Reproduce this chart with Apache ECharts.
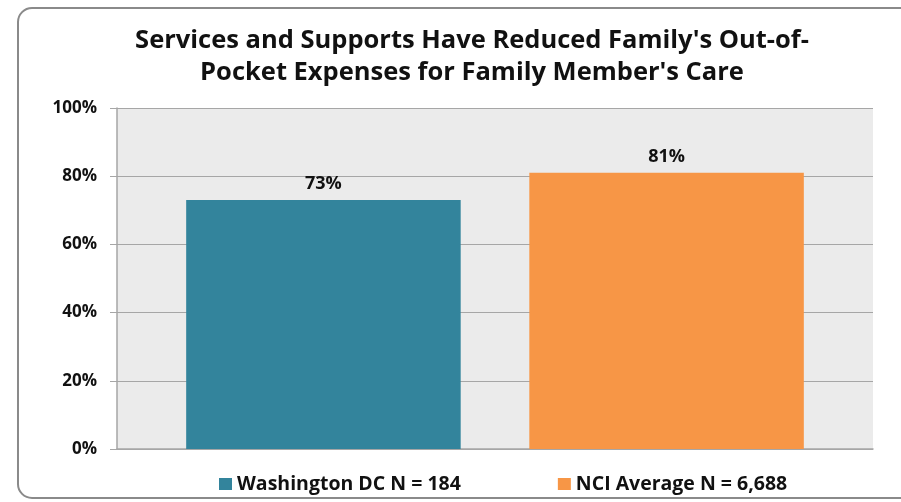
<!DOCTYPE html>
<html><head><meta charset="utf-8">
<script src="https://cdn.jsdelivr.net/npm/echarts@6/dist/echarts.min.js"></script>
<style>html,body{margin:0;padding:0;background:#fff}#c{width:901px;height:502px}</style>
</head><body><div id="c"></div>
<script>
var titleLines = ["Services and Supports Have Reduced Family's Out-of-", "Pocket Expenses for Family Member's Care"];
var categories = [""];
var seriesNames = ["Washington DC N = 184", "NCI Average N = 6,688"];
var values = [73, 81];
var colors = ["#33849C", "#F79646"];
var yTicks = [0, 20, 40, 60, 80, 100];

var FONT = "Open Sans";
var chart = echarts.init(document.getElementById('c'), null, {renderer: 'canvas'});
var series = seriesNames.map(function (name, i) {
  return {
    name: name, type: 'bar', data: [values[i]],
    barGap: '25%', barCategoryGap: '18.3%',
    itemStyle: {color: colors[i]},
    label: {show: true, position: 'top', distance: 7, formatter: '{c}%',
      fontFamily: FONT, fontWeight: 'bold', fontSize: 18, color: '#111'}
  };
});
chart.setOption({
  animation: false,
  backgroundColor: '#fff',
  graphic: [{type: 'rect', shape: {x: 18, y: 8, width: 900, height: 490, r: 14},
    style: {fill: 'none', stroke: '#8a8a8a', lineWidth: 2}, z: -1}],
  title: {text: titleLines.join('\n'), left: 467, top: 20, textAlign: 'center',
    textStyle: {fontFamily: FONT, fontWeight: 'bold', fontSize: 25.5, lineHeight: 32, color: '#111'}},
  legend: {top: 469, left: 214, itemWidth: 13, itemHeight: 12, itemGap: 97,
    icon: 'rect', data: seriesNames,
    textStyle: {fontFamily: FONT, fontWeight: 'bold', fontSize: 19.5, color: '#111'}},
  grid: {left: 117, right: 28, top: 108, bottom: 53, show: true, backgroundColor: '#EBEBEB', borderWidth: 0},
  xAxis: {type: 'category', data: categories, axisLabel: {show: false},
    axisTick: {show: false}, axisLine: {lineStyle: {color: '#a6a6a6', width: 1.5}}},
  yAxis: {type: 'value', min: 0, max: 100, interval: 20,
    axisLine: {show: true, lineStyle: {color: '#a6a6a6', width: 1.5}},
    axisTick: {show: true, length: 7, lineStyle: {color: '#a6a6a6'}},
    splitLine: {lineStyle: {color: '#a6a6a6', width: 1.2}},
    axisLabel: {margin: 20, formatter: function (v) { return yTicks.indexOf(v) >= 0 ? v + '%' : ''; },
      fontFamily: FONT, fontWeight: 'bold', fontSize: 17, color: '#111'}},
  series: series
});
</script></body></html>
